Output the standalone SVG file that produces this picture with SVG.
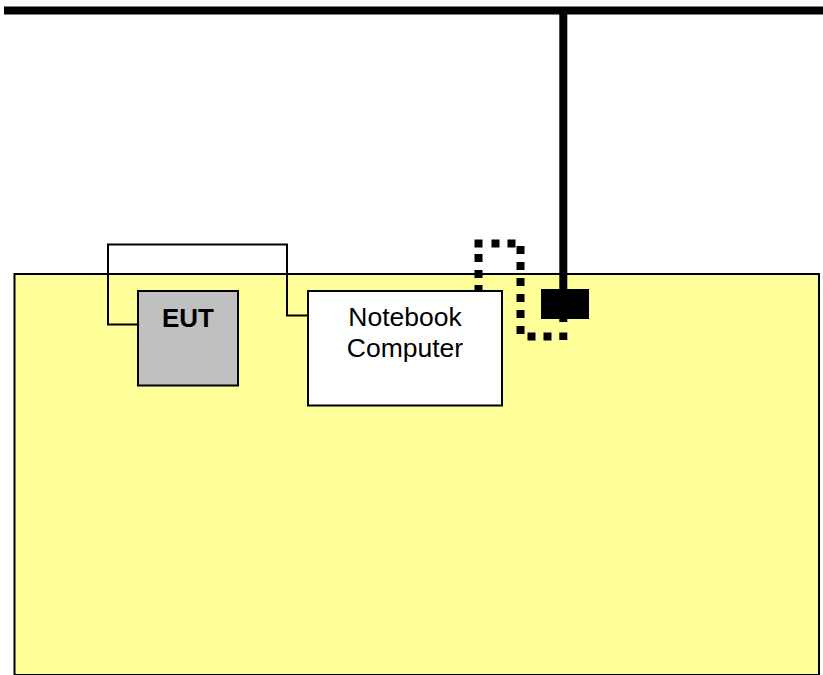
<svg xmlns="http://www.w3.org/2000/svg" width="823" height="675" viewBox="0 0 823 675">
<style>
.box{stroke:#000;stroke-width:2}
.wire{fill:none;stroke:#000;stroke-width:2}
.heavy{fill:none;stroke:#000;stroke-width:8}
.lbl{font-family:"Liberation Sans",Arial,sans-serif;text-anchor:middle;fill:#000}
</style>
<rect width="823" height="675" fill="#fff"/>
<g id="table"><rect class="box" x="14.500" y="274" width="804.500" height="401" fill="#ffff99"/></g>
<g id="connectors">
<path class="heavy" d="M4 10.500H823"/>
<path class="heavy" d="M563.300 10V322"/>
<path class="wire" d="M137 324.500H108V244.500H287V315.500H308"/>
<path class="heavy" d="M478.500 294V285M478.500 278V270M478.500 262V254M478.500 247.500V239.500M491.500 243.500H499.500M507.500 243.500H515.500M520.500 246V254M520.500 262V270M520.500 278V286M520.500 294V302M520.500 310V318M520.500 326V334M527.500 336.500H535.500M543.500 336.500H551.500M563.300 332.500V340"/>
</g>
<g id="outlet"><rect x="541" y="289" width="48" height="30" fill="#000"/></g>
<g id="eut"><rect class="box" x="138" y="291" width="100" height="94.500" fill="#c0c0c0"/>
<text class="lbl" x="188" y="327" font-size="26" font-weight="bold">EUT</text></g>
<g id="notebook"><rect class="box" x="308" y="291" width="194" height="114.500" fill="#fff"/>
<text class="lbl" x="405" y="326" font-size="26.500">Notebook</text>
<text class="lbl" x="405" y="357" font-size="26.500">Computer</text></g>
</svg>
